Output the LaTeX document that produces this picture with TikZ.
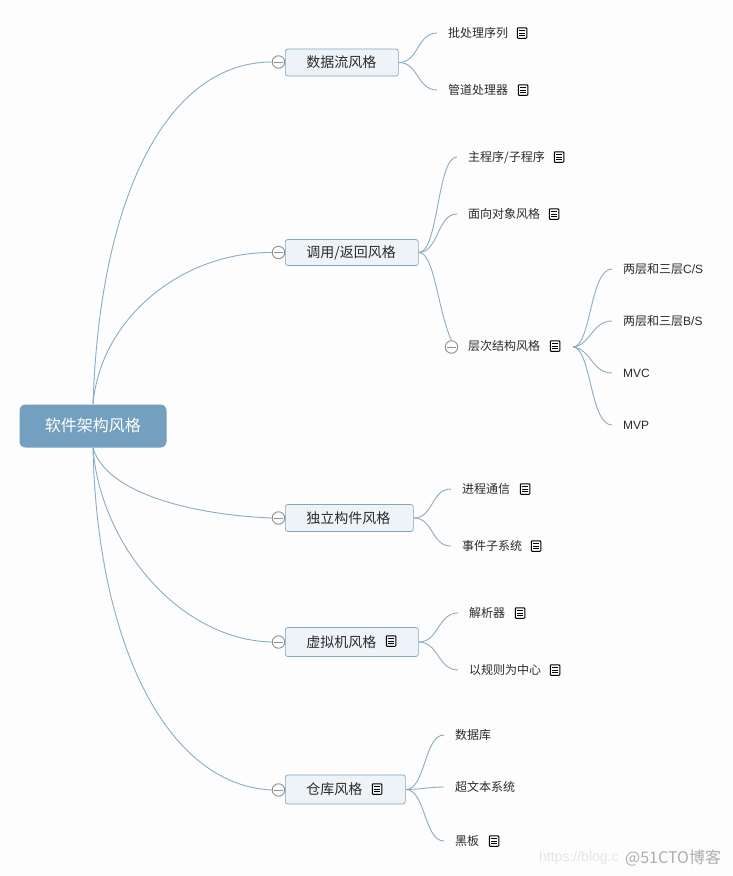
\documentclass[tikz,border=0pt]{standalone}
\usepackage{fontspec}
\setmainfont{Noto Sans CJK SC}
\newfontfamily\latfont{Liberation Sans}
\definecolor{linkc}{HTML}{8AADC4}
\definecolor{rootc}{HTML}{72A0BE}
\definecolor{branchf}{HTML}{EEF3F8}
\definecolor{branchd}{HTML}{7FA6C0}
\definecolor{txt}{HTML}{2B2B2B}
\definecolor{bgc}{HTML}{FDFDFD}
\definecolor{circc}{HTML}{8F8F8F}
\tikzset{
  rootbox/.style={fill=rootc,rounded corners=6pt,minimum width=147pt,minimum height=43pt,inner sep=0pt,text=white,font=\fontsize{16}{18}\selectfont},
  branchbox/.style={draw=branchd,fill=branchf,rounded corners=2.5pt,line width=.7pt,minimum height=27pt,inner ysep=0pt,inner xsep=0pt,anchor=west,align=left,text=txt,font=\fontsize{14}{16}\selectfont},
  leaf/.style={anchor=west,inner ysep=0pt,inner xsep=11pt,text=txt,font=\fontsize{12}{14}\selectfont},
  toggle/.style={circle,draw=circc,fill=bgc,line width=.9pt,minimum size=12.5pt,inner sep=0pt},
  noteicon/.style={draw=black,line width=1pt,rounded corners=.8pt,minimum width=9.5pt,minimum height=10.5pt,inner sep=0pt},
  link/.style={draw=linkc,line width=.9pt},
  wm/.style={anchor=west,inner sep=0pt}
}
\newcommand{\noteat}[2]{%
  \node[noteicon] (#1) at (#2) {};
  \foreach \dy in {-2.4,0,2.4}{\draw[black,line width=.8pt] ([xshift=-2.8pt,yshift=\dy pt]#1.center) -- ([xshift=2.8pt,yshift=\dy pt]#1.center);}
}
\newcommand{\toggleat}[2]{%
  \node[toggle] (#1) at (#2) {};
  \draw[circc,line width=1pt] ([xshift=-4.5pt]#1.center) -- ([xshift=4.5pt]#1.center);
}
\newcommand{\scurve}[2]{\draw[link] (#1) .. controls +(20,0) and +(-20,0) .. (#2);}
\begin{document}
\begin{tikzpicture}[x=1pt,y=-1pt]
\path[use as bounding box,fill=bgc] (0,0) rectangle (733,876);
% root
\node[rootbox] (root) at (93,426) {\raisebox{3pt}{\textcolor{white}{软件架构风格}}};
% branches
\node[branchbox,minimum width=113pt,text width=113pt] (b1) at (285,62.5) {\hspace{21pt}\raisebox{1pt}{数据流风格}};
\node[branchbox,minimum width=133pt,text width=133pt,minimum height=26pt] (b2) at (285,252.5) {\hspace{21pt}调用/返回风格};
\node[branchbox,minimum width=128pt,text width=128pt] (b3) at (285,518) {\hspace{21pt}\raisebox{1pt}{独立构件风格}};
\node[branchbox,minimum width=133pt,text width=133pt,minimum height=29pt] (b4) at (285,642) {\hspace{21pt}\raisebox{1.5pt}{虚拟机风格}};
\node[branchbox,minimum width=120pt,text width=120pt,minimum height=29pt] (b5) at (285,789.5) {\hspace{21pt}仓库风格};
\noteat{ib4}{391,641}
\noteat{ib5}{377,789}
% toggles
\toggleat{t1}{278.5,62}
\toggleat{t2}{278.5,252.5}
\toggleat{t3}{278.5,518}
\toggleat{t4}{278.5,642}
\toggleat{t5}{278.5,790}
% root connectors
\draw[link] (root.north) .. controls (100,190) and (170,62) .. (t1.west);
\draw[link] (root.north) .. controls (100,320) and (180,252) .. (t2.west);
\draw[link] (root.south) .. controls (106,494) and (195,515) .. (t3.west);
\draw[link] (root.south) .. controls (100,545) and (180,640) .. (t4.west);
\draw[link] (root.south) .. controls (97,640) and (165,785) .. (t5.west);
% leaves of b1
\node[leaf] (l11) at (437,33) {批处理序列};
\node[leaf] (l12) at (437,90) {管道处理器};
\noteat{il11}{522,33}
\noteat{il12}{523,90}
\scurve{b1.east}{l11.west}
\scurve{b1.east}{l12.west}
% leaves of b2
\node[leaf] (l21) at (457,157) {主程序/子程序};
\node[leaf] (l22) at (457,214) {面向对象风格};
\node[leaf] (l23) at (457,346) {层次结构风格};
\noteat{il21}{559,157}
\noteat{il22}{554,214}
\noteat{il23}{555,346}
\toggleat{t23}{451.5,347}
\scurve{b2.east}{l21.west}
\scurve{b2.east}{l22.west}
\draw[link] (b2.east) .. controls +(16,0) and +(-14,-30) .. (t23.north);
% sub leaves
\coordinate (h3) at (573,347);
\node[leaf] (s1) at (612,269) {两层和三层{\latfont C/S}};
\node[leaf] (s2) at (612,321) {两层和三层{\latfont B/S}};
\node[leaf] (s3) at (612,373) {\latfont MVC};
\node[leaf] (s4) at (612,425) {\latfont MVP};
\draw[link] (h3) .. controls +(18,0) and +(-22,0) .. (s1.west);
\draw[link] (h3) .. controls +(18,-2) and +(-20,0) .. (s2.west);
\draw[link] (h3) .. controls +(18,2) and +(-20,0) .. (s3.west);
\draw[link] (h3) .. controls +(18,0) and +(-22,0) .. (s4.west);
% leaves of b3
\node[leaf] (l31) at (451,489) {进程通信};
\node[leaf] (l32) at (451,546) {事件子系统};
\noteat{il31}{525,489}
\noteat{il32}{536,546}
\scurve{b3.east}{l31.west}
\scurve{b3.east}{l32.west}
% leaves of b4
\node[leaf] (l41) at (458,613) {解析器};
\node[leaf] (l42) at (458,670) {以规则为中心};
\noteat{il41}{520,613}
\noteat{il42}{555,670}
\scurve{b4.east}{l41.west}
\scurve{b4.east}{l42.west}
% leaves of b5
\node[leaf] (l51) at (444,735) {数据库};
\node[leaf] (l52) at (444,787) {超文本系统};
\node[leaf] (l53) at (444,841) {黑板};
\noteat{il53}{494,841}
\draw[link] (b5.east) .. controls +(20,0) and +(-20,0) .. (l51.west);
\draw[link] (b5.east) .. controls +(14,0) and +(-14,0) .. (l52.west);
\draw[link] (b5.east) .. controls +(20,0) and +(-20,0) .. (l53.west);
% watermark
\node[wm,text=black!10,font=\latfont\fontsize{14}{16}\selectfont] (wm1) at (539,858) {https://blog.c};
\node[wm,text=black!32,font=\fontsize{16}{18}\selectfont] (wm2) at (625,858) {@51CTO博客};
\end{tikzpicture}
\end{document}
